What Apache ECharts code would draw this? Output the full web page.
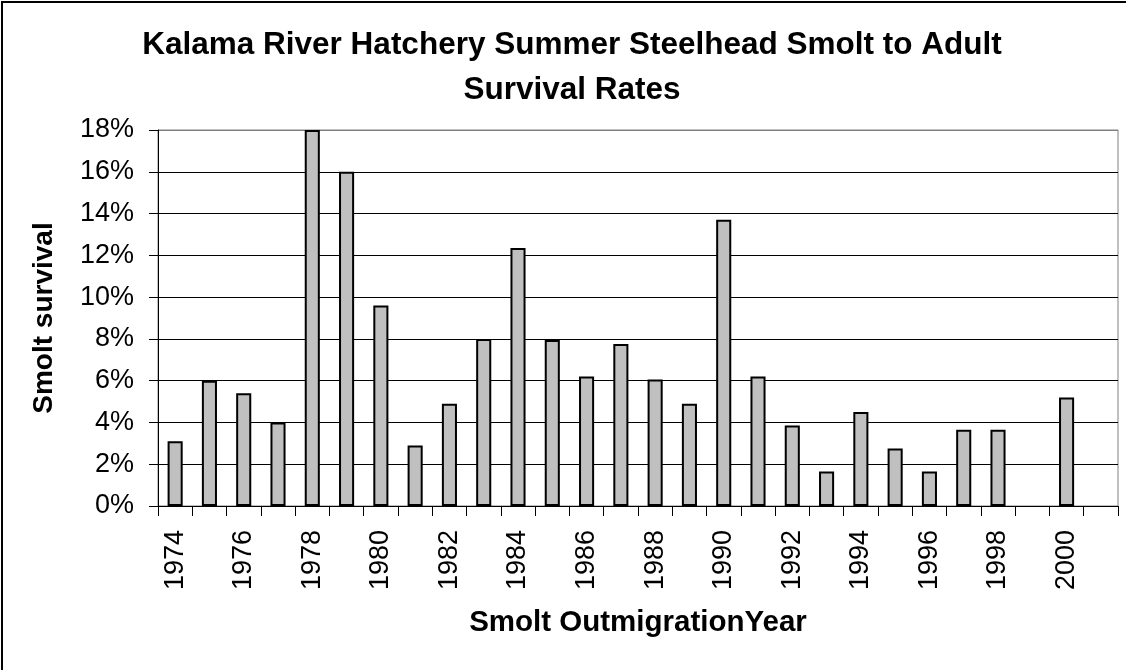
<!DOCTYPE html>
<html>
<head>
<meta charset="utf-8">
<script src="https://cdn.jsdelivr.net/npm/echarts@6/dist/echarts.min.js"></script>
<style>
html,body{margin:0;padding:0;background:#fff;}
#chart{width:1126px;height:670px;}
</style>
</head>
<body>
<div id="chart"></div>
<script>
const years = ['1974','1975','1976','1977','1978','1979','1980','1981','1982','1983','1984','1985','1986','1987','1988','1989','1990','1991','1992','1993','1994','1995','1996','1997','1998','1999','2000','2001'];
const survivalPct = [3.1, 6.0, 5.4, 4.0, 18.0, 16.0, 9.6, 2.9, 4.9, 8.0, 12.35, 7.95, 6.2, 7.75, 6.05, 4.9, 13.7, 6.2, 3.85, 1.65, 4.5, 2.75, 1.65, 3.65, 3.65, null, 5.2, null];
const titleLines = ['Kalama River Hatchery Summer Steelhead Smolt to Adult', 'Survival Rates'];
const yTitle = 'Smolt survival';
const xTitle = 'Smolt OutmigrationYear';

const FONT = '"Liberation Sans", Arial, sans-serif';
const chart = echarts.init(document.getElementById('chart'), null, {renderer: 'canvas'});
chart.setOption({
  animation: false,
  backgroundColor: '#fff',
  grid: {left: 158, right: 8, top: 130, bottom: 164, show: true, borderColor: '#808080', borderWidth: 1},
  xAxis: {
    type: 'category',
    data: years,
    boundaryGap: true,
    axisLine: {lineStyle: {color: '#000', width: 1}},
    axisTick: {show: true, interval: 0, length: 10, lineStyle: {color: '#000'}},
    axisLabel: {interval: 1, rotate: 90, margin: 24, fontSize: 27, color: '#000', fontFamily: FONT},
    splitLine: {show: false}
  },
  yAxis: {
    type: 'value',
    min: 0, max: 18, interval: 2,
    axisLine: {show: true, lineStyle: {color: '#000', width: 1}},
    axisTick: {show: true, length: 9, lineStyle: {color: '#000'}},
    axisLabel: {margin: 24, fontSize: 27, color: '#000', fontFamily: FONT, formatter: '{value}%'},
    splitLine: {show: true, lineStyle: {color: ['#000', '#000', '#000', '#000', '#000', '#000', '#000', '#000', '#000', '#808080'], width: 1}}
  },
  series: [{
    type: 'bar',
    data: survivalPct,
    barWidth: '44%',
    itemStyle: {color: '#c0c0c0', borderColor: '#000', borderWidth: 2}
  }],
  graphic: [
    {type: 'rect', shape: {x: 2, y: 2, width: 1300, height: 900}, style: {fill: 'none', stroke: '#000', lineWidth: 2}, silent: true, z: 100},
    {type: 'text', x: 572, y: 45, style: {text: titleLines[0], font: 'bold 31.5px ' + FONT, fill: '#000', textAlign: 'center', textVerticalAlign: 'middle'}},
    {type: 'text', x: 572, y: 90, style: {text: titleLines[1], font: 'bold 31.5px ' + FONT, fill: '#000', textAlign: 'center', textVerticalAlign: 'middle'}},
    {type: 'text', x: 44, y: 318, rotation: Math.PI / 2, style: {text: yTitle, font: 'bold 28px ' + FONT, fill: '#000', textAlign: 'center', textVerticalAlign: 'middle'}},
    {type: 'text', x: 638, y: 623, style: {text: xTitle, font: 'bold 29.5px ' + FONT, fill: '#000', textAlign: 'center', textVerticalAlign: 'middle'}}
  ]
});
</script>
</body>
</html>
